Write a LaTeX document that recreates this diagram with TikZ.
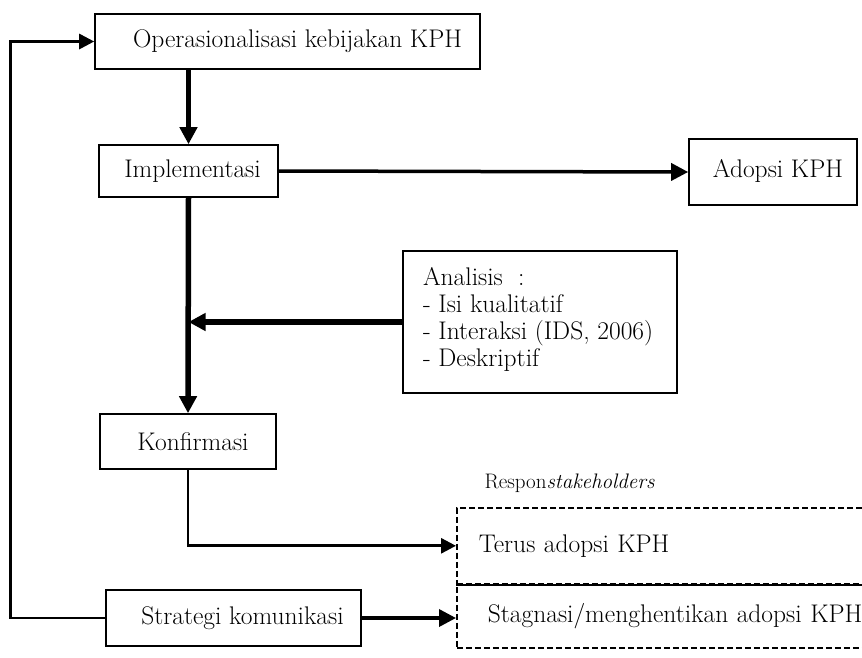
\documentclass[tikz,border=0pt]{standalone}
\usetikzlibrary{arrows.meta}
\tikzset{
  txt/.style={font=\fontsize{25.5}{27}\selectfont},
  box/.style={txt, draw, line width=1.6pt, inner sep=0pt},
  dashbox/.style={txt, draw, line width=1.6pt, dash pattern=on 6pt off 3pt, inner ysep=0pt, align=left, anchor=north west},
  bigarrow/.style={line width=5.5pt, -{Triangle[length=17pt,width=17pt]}},
  midarrow/.style={line width=3.5pt, -{Triangle[length=17pt,width=17pt]}},
  smallline/.style={line width=2.8pt},
}
\begin{document}
\begin{tikzpicture}[x=1pt,y=-1pt]
  \useasboundingbox (0,0) rectangle (862,657);
  \node[box, minimum width=385pt, minimum height=55pt] (op) at (287.5,41.5) {\hspace{20pt}Operasionalisasi kebijakan KPH};
  \node[box, minimum width=179pt, minimum height=52pt] (impl) at (188.5,171) {\hspace{8pt}Implementasi};
  \node[box, minimum width=168pt, minimum height=66pt] (adopsi) at (773,172) {\hspace{10pt}\raisebox{8pt}{Adopsi KPH}};
  \node[box, inner xsep=20pt, inner ysep=16pt] (ana) at (540,322)
    {\parbox[c][110pt][t]{234pt}{Analisis\ \ :\\- Isi kualitatif\\- Interaksi (IDS, 2006)\\- Deskriptif}};
  \node[box, minimum width=176pt, minimum height=55pt] (konf) at (188,441.5) {\hspace{10pt}Konfirmasi};
  \node[box, minimum width=255pt, minimum height=56pt] (strat) at (233.5,618) {\hspace{18pt}Strategi komunikasi};
  \node[txt, anchor=west, font=\fontsize{21}{24}\selectfont] (resp) at (481,483) {Respon\textit{stakeholders}};
  \node[dashbox, minimum height=76pt, inner xsep=22pt, text width=440pt] (terus) at (456,507) {Terus adopsi KPH};
  \node[dashbox, minimum height=64pt, inner xsep=31pt, text width=440pt] (stag) at (456,583) {Stagnasi/menghentikan adopsi KPH};
  \draw[line width=2pt] (terus.south west) -- (terus.south east);
  \begin{scope}[line join=miter]
    \draw[bigarrow] (op.south -| impl.north) -- (impl.north);
    \draw[bigarrow] (impl.south) -- (konf.north);
    \draw[bigarrow] (ana.west) -- (ana.west -| impl.south);
    \draw[midarrow] (impl.east) -- (adopsi.west);
    \draw[smallline, -{Triangle[length=15pt,width=15pt]}] (konf.south) |- (terus.west);
    \draw[midarrow] (strat.east) -- (strat.east -| stag.west);
    \draw[smallline, -{Triangle[length=15pt,width=15pt]}] (strat.west) -- ++(-95,0) |- (op.west);
  \end{scope}
\end{tikzpicture}
\end{document}
